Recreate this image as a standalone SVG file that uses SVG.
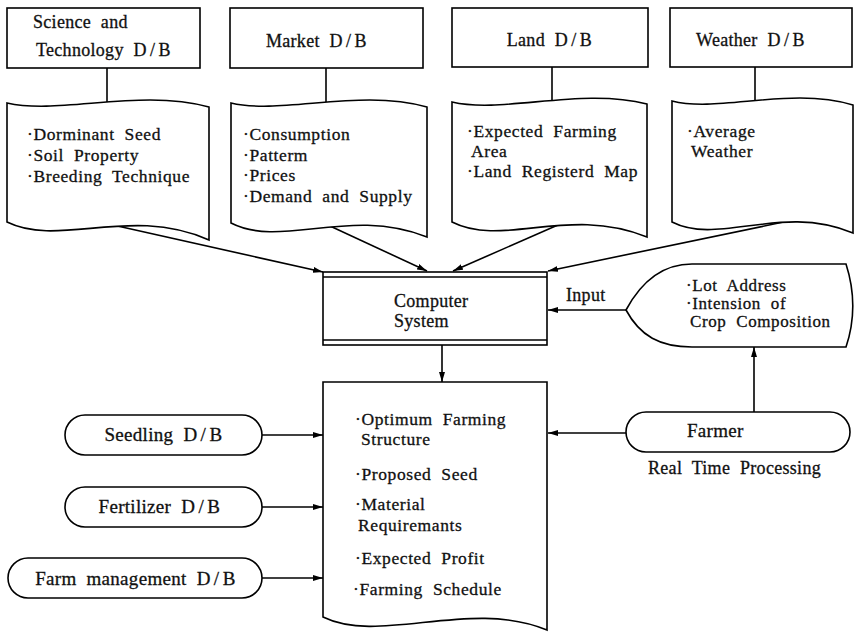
<svg xmlns="http://www.w3.org/2000/svg" width="854" height="634" viewBox="0 0 854 634">
  <style>
    .shape { fill: #fff; stroke: #000; stroke-width: 1.6; }
    .line { fill: none; stroke: #000; stroke-width: 1.6; }
    .arrow { fill: none; stroke: #000; stroke-width: 1.6; marker-end: url(#ah); }
    text { font-family: "Liberation Serif", "Times New Roman", serif; fill: #111; stroke: #111; stroke-width: 0.3px; letter-spacing: 0.6px; word-spacing: 5px; }
    .t17 { font-size: 17px; }
    .doc { font-size: 17.5px; }
    .t18 { font-size: 18px; letter-spacing: 0.3px; }
    .t19 { font-size: 19px; letter-spacing: 0.3px; }
    .mid { text-anchor: middle; }
    .db { letter-spacing: 3.5px; }
  </style>
  <defs>
    <marker id="ah" viewBox="0 0 10 6" refX="10" refY="3" markerWidth="10" markerHeight="6" markerUnits="userSpaceOnUse" orient="auto">
      <path d="M0,0 L10,3 L0,6 Z" fill="#000"/>
    </marker>
  </defs>

  <!-- connectors -->
  <g id="connectors">
    <line class="line" x1="107" y1="68" x2="107" y2="102"/>
    <line class="line" x1="326" y1="68" x2="326" y2="102"/>
    <line class="line" x1="552" y1="67" x2="552" y2="101"/>
    <line class="line" x1="755" y1="67" x2="755" y2="100"/>
    <line class="arrow" x1="113" y1="225" x2="323" y2="272"/>
    <line class="arrow" x1="330" y1="226" x2="427" y2="271"/>
    <line class="arrow" x1="567" y1="221" x2="453" y2="271"/>
    <line class="arrow" x1="798" y1="219" x2="548" y2="271"/>
    <line class="arrow" x1="626" y1="310" x2="548" y2="310"/>
    <line class="arrow" x1="442" y1="345" x2="442" y2="382"/>
    <line class="arrow" x1="262" y1="435" x2="323" y2="435"/>
    <line class="arrow" x1="262" y1="507" x2="323" y2="507"/>
    <line class="arrow" x1="262" y1="578" x2="323" y2="578"/>
    <line class="arrow" x1="626" y1="433" x2="548" y2="433"/>
    <line class="arrow" x1="754" y1="412" x2="754" y2="347"/>
    <text class="t18" x="566" y="301">Input</text>
    <text class="t18" x="648" y="474">Real Time Processing</text>
  </g>

  <!-- database headers -->
  <g id="science-db">
    <rect class="shape" x="7" y="8" width="193" height="60"/>
    <text class="t18" x="33" y="28">Science and</text>
    <text class="t18" x="36" y="56">Technology <tspan class="db">D/B</tspan></text>
  </g>
  <g id="market-db">
    <rect class="shape" x="230" y="8" width="193" height="60"/>
    <text class="t18 mid" x="318" y="47">Market <tspan class="db">D/B</tspan></text>
  </g>
  <g id="land-db">
    <rect class="shape" x="452" y="8" width="196" height="59"/>
    <text class="t18 mid" x="551" y="46">Land <tspan class="db">D/B</tspan></text>
  </g>
  <g id="weather-db">
    <rect class="shape" x="670" y="8" width="182" height="59"/>
    <text class="t18 mid" x="752" y="46">Weather <tspan class="db">D/B</tspan></text>
  </g>

  <!-- database contents -->
  <g id="science-doc">
    <path class="shape" d="M7,103 C60,115 140,88 209,107 L209,240 C130,205 60,248 7,222 Z"/>
    <text class="doc" x="27" y="140">·Dorminant Seed</text>
    <text class="doc" x="27" y="161">·Soil Property</text>
    <text class="doc" x="27" y="182">·Breeding Technique</text>
  </g>
  <g id="market-doc">
    <path class="shape" d="M231,103 C282,115 360,88 427,107 L427,237 C349,206 282,249 231,223 Z"/>
    <text class="doc" x="243" y="140">·Consumption</text>
    <text class="doc" x="243" y="161">·Patterm</text>
    <text class="doc" x="243" y="181">·Prices</text>
    <text class="doc" x="243" y="202">·Demand and Supply</text>
  </g>
  <g id="land-doc">
    <path class="shape" d="M452,102 C503,114 581,87 647,104 L647,237 C569,205 503,248 452,222 Z"/>
    <text class="doc" x="467" y="137">·Expected Farming</text>
    <text class="doc" x="471" y="157">Area</text>
    <text class="doc" x="467" y="177">·Land Registerd Map</text>
  </g>
  <g id="weather-doc">
    <path class="shape" d="M672,101 C719,113 791,86 853,105 L853,233 C781,203 719,246 672,222 Z"/>
    <text class="doc" x="687" y="137">·Average</text>
    <text class="doc" x="691" y="157">Weather</text>
  </g>

  <!-- processing -->
  <g id="computer-system">
    <rect class="shape" x="323" y="272" width="224" height="73"/>
    <line class="line" x1="323" y1="277" x2="547" y2="277"/>
    <line class="line" x1="323" y1="340" x2="547" y2="340"/>
    <text class="t18" x="394" y="307">Computer</text>
    <text class="t18" x="394" y="327">System</text>
  </g>
  <g id="input-display">
    <path class="shape" d="M626,310 C640,284 660,264 692,264 L846,264 C855,292 855,320 846,347 L692,347 C660,347 640,336 626,310 Z"/>
    <text class="t17" x="686" y="291">·Lot Address</text>
    <text class="t17" x="686" y="309">·Intension of</text>
    <text class="t17" x="690" y="327">Crop Composition</text>
  </g>

  <!-- output -->
  <g id="output-doc">
    <path class="shape" d="M323,382 L547,382 L547,630 C470,598 380,645 323,617 Z"/>
    <text class="doc" x="355" y="425">·Optimum Farming</text>
    <text class="doc" x="361" y="445">Structure</text>
    <text class="doc" x="355" y="480">·Proposed Seed</text>
    <text class="doc" x="355" y="510">·Material</text>
    <text class="doc" x="358" y="531">Requiremants</text>
    <text class="doc" x="355" y="564">·Expected Profit</text>
    <text class="doc" x="353" y="595">·Farming Schedule</text>
  </g>

  <!-- side databases and farmer -->
  <g id="seedling-db">
    <rect class="shape" x="65" y="415" width="197" height="40" rx="20"/>
    <text class="t19 mid" x="165" y="441">Seedling <tspan class="db">D/B</tspan></text>
  </g>
  <g id="fertilizer-db">
    <rect class="shape" x="65" y="487" width="197" height="40" rx="20"/>
    <text class="t19 mid" x="161" y="513">Fertilizer <tspan class="db">D/B</tspan></text>
  </g>
  <g id="farm-management-db">
    <rect class="shape" x="8" y="558" width="254" height="40" rx="20"/>
    <text class="t19 mid" x="137" y="585">Farm management <tspan class="db">D/B</tspan></text>
  </g>
  <g id="farmer">
    <rect class="shape" x="626" y="412" width="224" height="40" rx="20"/>
    <text class="t19" x="687" y="437">Farmer</text>
  </g>
</svg>
